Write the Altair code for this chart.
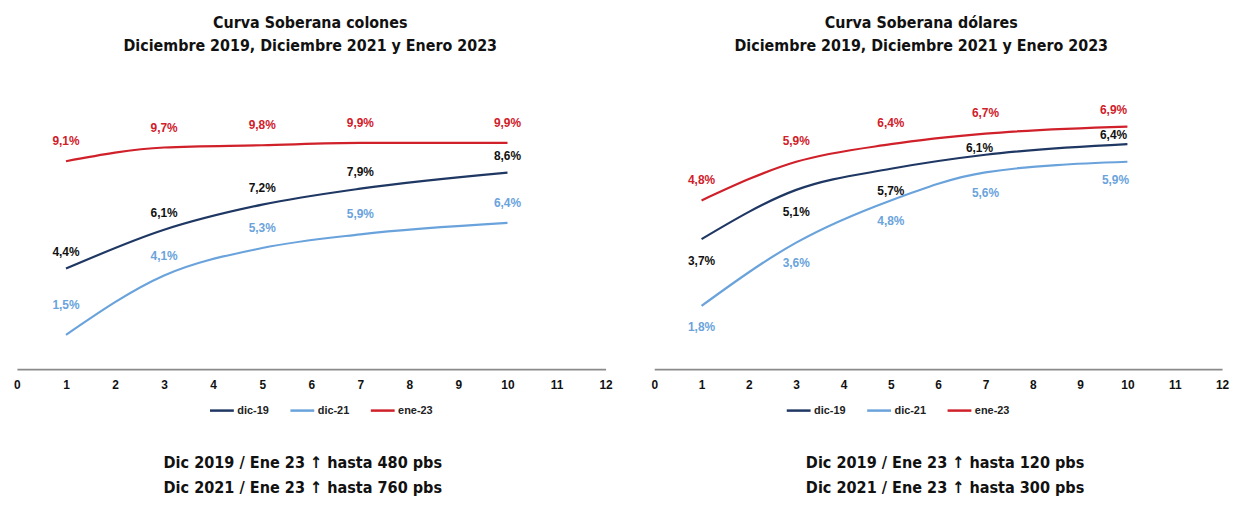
import altair as alt
import pandas as pd

# ---------------- data ----------------
TENORS = [1, 3, 5, 7, 10]
SERIES = ["dic-19", "dic-21", "ene-23"]

COLONES_DIC19 = [4.4, 6.1, 7.2, 7.9, 8.6]
COLONES_DIC21 = [1.5, 4.1, 5.3, 5.9, 6.4]
COLONES_ENE23 = [9.1, 9.7, 9.8, 9.9, 9.9]

DOLARES_DIC19 = [3.7, 5.1, 5.7, 6.1, 6.4]
DOLARES_DIC21 = [1.8, 3.6, 4.8, 5.6, 5.9]
DOLARES_ENE23 = [4.8, 5.9, 6.4, 6.7, 6.9]

X_TICKS = list(range(0, 13))

TITLE_COLONES = ["Curva Soberana colones", "Diciembre 2019, Diciembre 2021 y Enero 2023"]
TITLE_DOLARES = ["Curva Soberana dólares", "Diciembre 2019, Diciembre 2021 y Enero 2023"]
FOOTER_COLONES = ["Dic 2019 / Ene 23 \u2191 hasta 480 pbs", "Dic 2021 / Ene 23 \u2191 hasta 760 pbs"]
FOOTER_DOLARES = ["Dic 2019 / Ene 23 \u2191 hasta 120 pbs", "Dic 2021 / Ene 23 \u2191 hasta 300 pbs"]

# ---------------- style ----------------
LINE_COLORS = ["#1F3763", "#6AA3DC", "#D0202A"]
LABEL_COLORS = {"dic-19": "#111111", "dic-21": "#6AA3DC", "ene-23": "#D0202A"}
NARROW = "Liberation Sans Narrow, Arial Narrow, DejaVu Sans Condensed, sans-serif"
SANS = "Liberation Sans, Arial, sans-serif"
H = 290


def make_df(d19, d21, e23):
    rows = []
    for serie, vals in zip(SERIES, [d19, d21, e23]):
        for t, v in zip(TENORS, vals):
            rows.append({"plazo": t, "tasa": v, "serie": serie,
                         "etiqueta": f"{v:.1f}".replace(".", ",") + "%"})
    return pd.DataFrame(rows)


def panel(df, title, footer, width, ymax, label_rules, legend_x, footer_x, title_dx):
    x = alt.X("plazo:Q",
              scale=alt.Scale(domain=[0, 12], nice=False, zero=False),
              axis=alt.Axis(values=X_TICKS, title=None, grid=False, ticks=False,
                            domainColor="#8a8a8a", domainWidth=1.6,
                            labelFont=SANS, labelFontSize=12, labelFontWeight="bold",
                            labelColor="#111111", labelPadding=10, format="d",
                            labelOverlap=False, labelFlush=False))
    y = alt.Y("tasa:Q", scale=alt.Scale(domain=[0, ymax], nice=False, zero=True), axis=None)

    base = alt.Chart(df)
    lines = base.mark_line(interpolate="monotone", strokeWidth=2.2).encode(
        x=x, y=y,
        color=alt.Color("serie:N",
                        scale=alt.Scale(domain=SERIES, range=LINE_COLORS),
                        legend=alt.Legend(orient="none", legendX=legend_x, legendY=318,
                                          direction="horizontal", title=None,
                                          symbolType="stroke", symbolSize=576,
                                          symbolStrokeWidth=2.5,
                                          labelFont=SANS, labelFontSize=11,
                                          labelFontWeight="bold", labelColor="#222222",
                                          labelOffset=2, columnPadding=16, padding=0)),
    )
    layers = [lines]
    for serie, cond, dy, dx in label_rules:
        flt = alt.datum.serie == serie
        if cond is not None:
            flt = flt & cond
        layers.append(
            base.transform_filter(flt).mark_text(
                dy=dy, dx=dx, font=SANS, fontSize=12, fontWeight="bold",
                color=LABEL_COLORS[serie]).encode(x=x, y=y, text="etiqueta:N")
        )
    one = pd.DataFrame({"k": [0]})
    for i, line in enumerate(footer):
        layers.append(
            alt.Chart(one).mark_text(
                font=NARROW, fontSize=16.2, fontWeight="bold",
                baseline="alphabetic", align="center", color="#111111"
            ).encode(x=alt.value(footer_x), y=alt.value(390 + 25 * i), text=alt.value(line))
        )

    return alt.layer(*layers).properties(
        width=width, height=H,
        title=alt.Title(text=title, font=NARROW, fontSize=16, fontWeight="bold",
                        lineHeight=24, anchor="middle", offset=27, dx=title_dx,
                        color="#111111"),
    )


df_col = make_df(COLONES_DIC19, COLONES_DIC21, COLONES_ENE23)
df_dol = make_df(DOLARES_DIC19, DOLARES_DIC21, DOLARES_ENE23)

rules_col = [
    ("ene-23", None, -20, 0),
    ("dic-19", None, -17, 0),
    ("dic-21", alt.datum.plazo > 1, -20, 0),
    ("dic-21", alt.datum.plazo <= 1, -30, 0),
]
rules_dol = [
    ("ene-23", alt.datum.plazo < 10, -21, 0),
    ("ene-23", alt.datum.plazo >= 10, -17, -14),
    ("dic-19", alt.datum.plazo <= 5, 22, 0),
    ("dic-19", (alt.datum.plazo > 5) & (alt.datum.plazo < 10), -7, -6),
    ("dic-19", alt.datum.plazo >= 10, -9, -14),
    ("dic-21", alt.datum.plazo < 10, 21, 0),
    ("dic-21", alt.datum.plazo >= 10, 18, -12),
]

left = panel(df_col, TITLE_COLONES, FOOTER_COLONES, 593, 12.6, rules_col,
             legend_x=193, footer_x=288, title_dx=-1)
right = panel(df_dol, TITLE_DOLARES, FOOTER_DOLARES, 572, 8.19, rules_dol,
              legend_x=132, footer_x=293, title_dx=-17)

chart = alt.hconcat(left, right, spacing=38).resolve_scale(color="independent").properties(
    padding={"top": 5, "left": 5, "right": 0, "bottom": 0},
    background="white",
).configure_view(strokeWidth=0, stroke="transparent")

chart.save("out.html", embed_options={"renderer": "svg", "actions": False})
